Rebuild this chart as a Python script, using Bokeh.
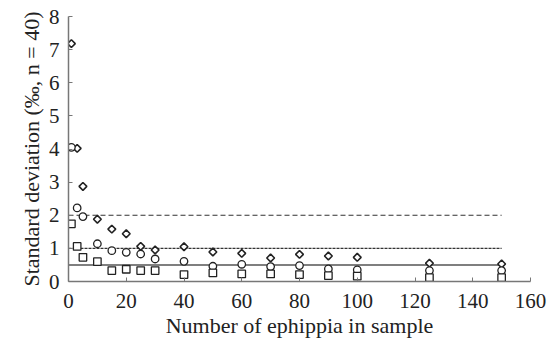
import math
from bokeh.plotting import figure
from bokeh.models import Range1d, FixedTicker
from bokeh.embed import file_html
from bokeh.resources import INLINE

n_sample = [1, 3, 5, 10, 15, 20, 25, 30, 40, 50, 60, 70, 80, 90, 100, 125, 150]
sd_diamond = [7.18, 4.02, 2.87, 1.88, 1.58, 1.44, 1.06, 0.95, 1.05, 0.89, 0.85, 0.71, 0.82, 0.77, 0.73, 0.55, 0.53]
sd_circle = [4.05, 2.22, 1.96, 1.14, 0.93, 0.88, 0.83, 0.68, 0.61, 0.46, 0.52, 0.45, 0.48, 0.38, 0.35, 0.33, 0.33]
sd_square = [1.74, 1.06, 0.73, 0.60, 0.33, 0.37, 0.33, 0.33, 0.21, 0.26, 0.23, 0.23, 0.21, 0.18, 0.16, 0.12, 0.12]

ref_x = [0, 150]
ref_dashed = 2.0
ref_dotted = 1.0
ref_solid = 0.5

x_ticks = [0, 20, 40, 60, 80, 100, 120, 140, 160]
y_ticks = [0, 1, 2, 3, 4, 5, 6, 7, 8]

FONT = "Liberation Serif"

p = figure(width=549, height=342, output_backend="svg", toolbar_location=None,
           x_range=Range1d(0, 160), y_range=Range1d(0, 8),
           min_border_left=68, min_border_right=19, min_border_top=16, min_border_bottom=61)
p.outline_line_color = None
p.grid.visible = False
p.background_fill_color = "white"

p.line(ref_x, [ref_dashed] * 2, line_color="#333333", line_width=1.2, line_dash="5 3")
p.line(ref_x, [ref_dotted] * 2, line_color="#333333", line_width=1.2, line_dash="3 1")
p.line(ref_x, [ref_solid] * 2, line_color="#555555", line_width=1.5)

p.scatter(n_sample, sd_diamond, marker="square", angle=math.pi / 4, size=5.5, fill_color="white",
          line_color="#222222", line_width=1.6)
p.scatter(n_sample, sd_circle, marker="circle", size=7.5, fill_color="white",
          line_color="#222222", line_width=1.3)
p.scatter(n_sample, sd_square, marker="square", size=7.5, fill_color="white",
          line_color="#222222", line_width=1.3)

for ax in (p.xaxis[0], p.yaxis[0]):
    ax.axis_line_color = "#777777"
    ax.axis_line_width = 1.5
    ax.major_tick_line_color = "#777777"
    ax.major_tick_in = 4
    ax.major_tick_out = 0
    ax.minor_tick_line_color = None
    ax.major_label_text_font = FONT
    ax.major_label_text_font_size = "21px"
    ax.major_label_text_color = "#222222"
    ax.axis_label_text_font = FONT
    ax.axis_label_text_font_size = "22px"
    ax.axis_label_text_font_style = "normal"
    ax.axis_label_text_color = "#222222"

p.xaxis.ticker = FixedTicker(ticks=x_ticks)
p.yaxis.ticker = FixedTicker(ticks=y_ticks)
p.xaxis.axis_label = "Number of ephippia in sample"
p.yaxis.axis_label = "Standard deviation (‰, n = 40)"
p.xaxis.major_label_standoff = 12
p.yaxis.major_label_standoff = 9
p.xaxis.axis_label_standoff = 2
p.yaxis.axis_label_standoff = 2

open("out.html", "w").write(file_html(p, INLINE))
